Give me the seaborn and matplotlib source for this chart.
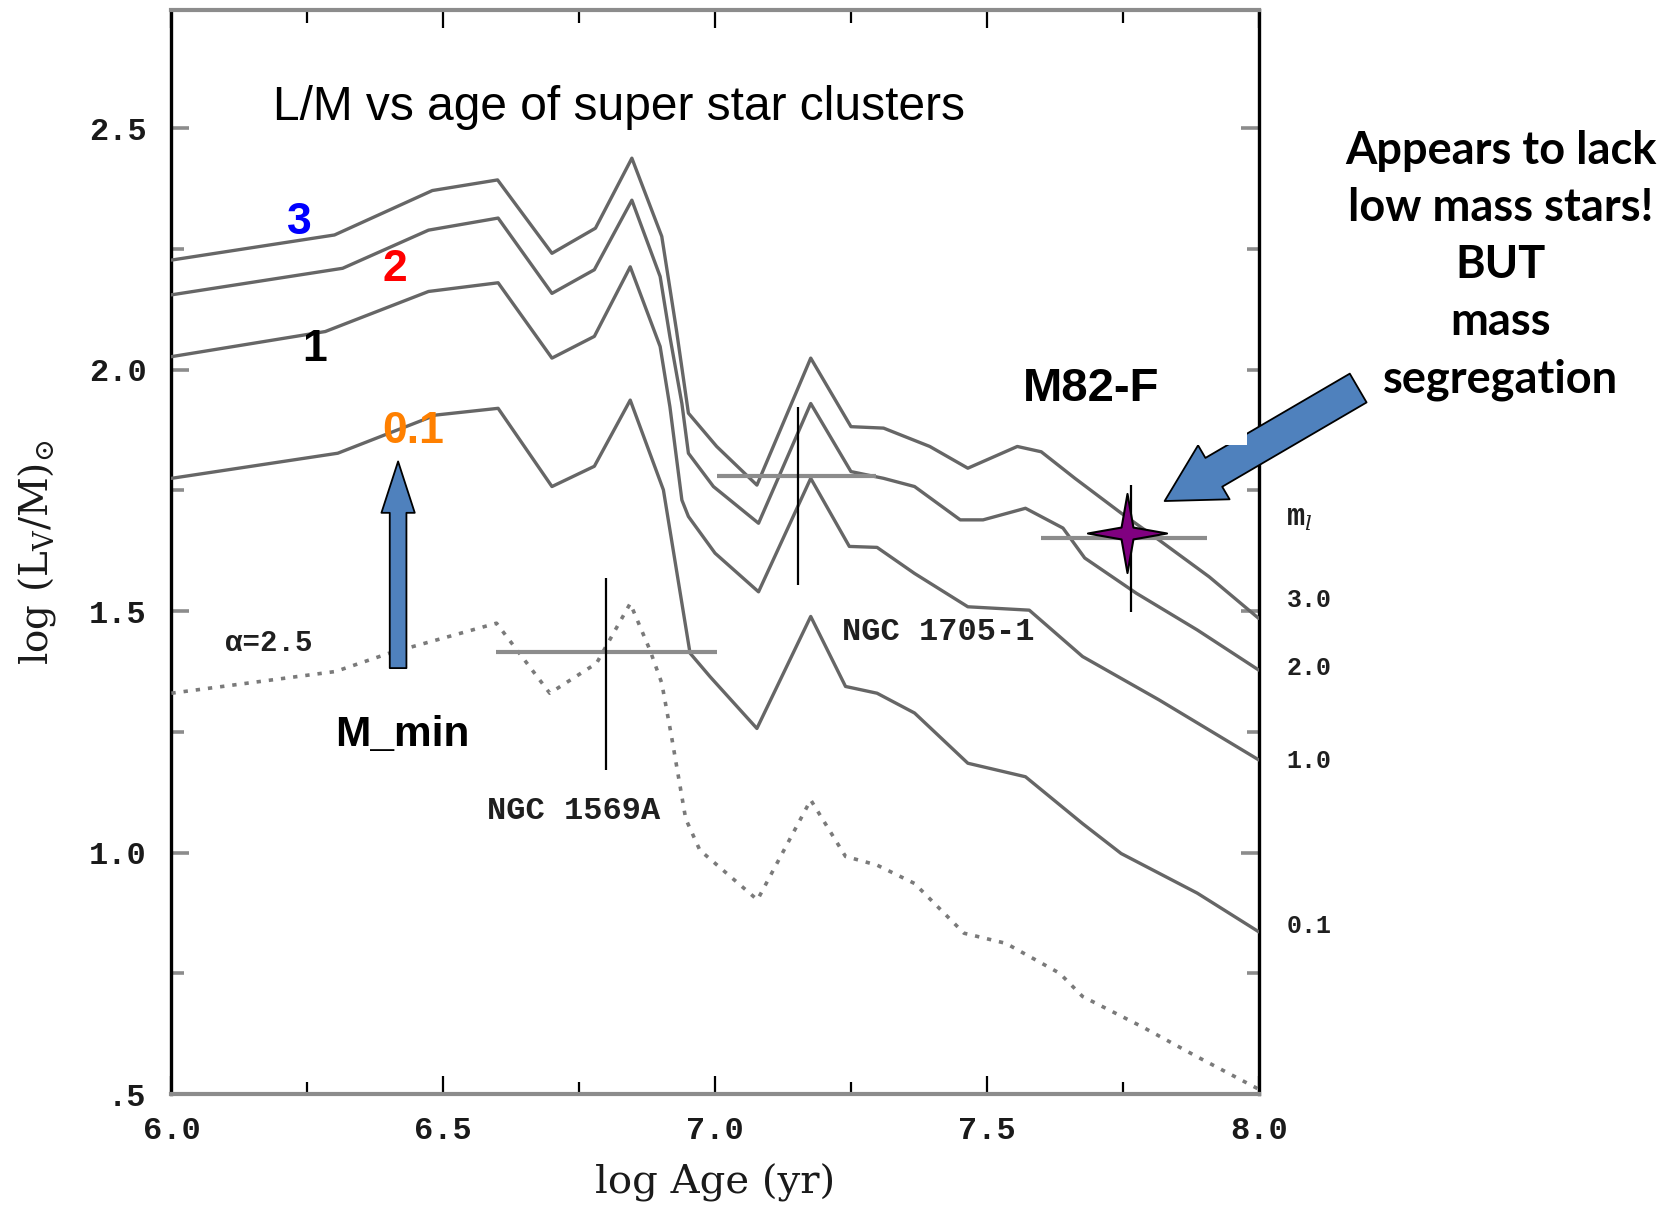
import numpy as np
import pandas as pd
import matplotlib
matplotlib.use("Agg")
import matplotlib.pyplot as plt
import seaborn as sns
from matplotlib.path import Path
from matplotlib.patches import Rectangle

# ---------------- data ----------------
age_m30 = [6.00, 6.30, 6.48, 6.60, 6.70, 6.78, 6.847, 6.902, 6.929, 6.951, 7.003, 7.077,
           7.176, 7.25, 7.31, 7.395, 7.465, 7.556, 7.60, 7.662, 7.747, 7.817, 7.909, 8.00]
lm_m30 = [2.227, 2.279, 2.371, 2.393, 2.241, 2.293, 2.438, 2.276, 2.082, 1.910, 1.841, 1.761,
          2.024, 1.882, 1.879, 1.841, 1.796, 1.841, 1.830, 1.775, 1.703, 1.647, 1.571, 1.485]

age_m20 = [6.00, 6.315, 6.473, 6.601, 6.700, 6.778, 6.847, 6.899, 6.917, 6.939, 6.951, 6.997,
           7.080, 7.176, 7.25, 7.31, 7.367, 7.451, 7.493, 7.571, 7.64, 7.68, 7.775, 7.887, 8.00]
lm_m20 = [2.155, 2.210, 2.289, 2.314, 2.158, 2.207, 2.351, 2.193, 2.068, 1.930, 1.827, 1.758,
          1.682, 1.930, 1.789, 1.775, 1.758, 1.689, 1.689, 1.713, 1.672, 1.610, 1.537, 1.461, 1.378]

age_m10 = [6.00, 6.283, 6.473, 6.601, 6.700, 6.778, 6.844, 6.899, 6.917, 6.939, 6.951, 7.000,
           7.080, 7.176, 7.247, 7.298, 7.367, 7.465, 7.578, 7.676, 7.817, 8.00]
lm_m10 = [2.027, 2.079, 2.162, 2.180, 2.024, 2.069, 2.213, 2.048, 1.923, 1.730, 1.696, 1.620,
          1.540, 1.775, 1.634, 1.632, 1.578, 1.509, 1.502, 1.406, 1.316, 1.192]

age_m01 = [6.00, 6.306, 6.486, 6.601, 6.700, 6.778, 6.844, 6.905, 6.954, 6.991, 7.077, 7.176,
           7.240, 7.298, 7.367, 7.465, 7.571, 7.676, 7.747, 7.817, 7.887, 8.00]
lm_m01 = [1.775, 1.827, 1.906, 1.920, 1.758, 1.800, 1.937, 1.751, 1.413, 1.364, 1.257, 1.489,
          1.344, 1.330, 1.289, 1.185, 1.157, 1.060, 0.998, 0.957, 0.916, 0.836]

age_a25 = [6.00, 6.302, 6.401, 6.598, 6.696, 6.782, 6.844, 6.880, 6.902, 6.920, 6.946, 6.972,
           7.078, 7.176, 7.240, 7.298, 7.367, 7.458, 7.535, 7.634, 7.676, 7.786, 7.887, 8.00]
lm_a25 = [1.330, 1.375, 1.413, 1.475, 1.330, 1.392, 1.516, 1.420, 1.351, 1.240, 1.070, 1.005,
          0.902, 1.109, 0.992, 0.974, 0.936, 0.833, 0.812, 0.750, 0.702, 0.639, 0.577, 0.510]

cluster_names = ["NGC 1569A", "NGC 1705-1", "M82-F"]
cluster_age = [6.800, 7.152, 7.765]
cluster_lm = [1.415, 1.779, 1.651]
cluster_age_err_lo = [0.202, 0.149, 0.166]
cluster_age_err_hi = [0.203, 0.144, 0.140]
cluster_lm_err_lo = [0.244, 0.225, 0.152]
cluster_lm_err_hi = [0.153, 0.144, 0.110]

star_age = [7.757]
star_lm = [1.661]

x_ticks = [6.0, 6.5, 7.0, 7.5, 8.0]
x_tick_labels = ["6.0", "6.5", "7.0", "7.5", "8.0"]
y_ticks = [0.5, 1.0, 1.5, 2.0, 2.5]
y_tick_labels = [".5", "1.0", "1.5", "2.0", "2.5"]

# ---------------- build table ----------------
frames = []
for name, a, l in [("3.0", age_m30, lm_m30), ("2.0", age_m20, lm_m20),
                   ("1.0", age_m10, lm_m10), ("0.1", age_m01, lm_m01),
                   ("alpha", age_a25, lm_a25)]:
    frames.append(pd.DataFrame({"log_age": a, "log_lm": l, "curve": name}))
df = pd.concat(frames, ignore_index=True)

# ---------------- style ----------------
sns.set_style("white")
plt.rcParams["font.family"] = ["Liberation Sans", "DejaVu Sans"]
plt.rcParams["mathtext.fontset"] = "dejavuserif"

fig = plt.figure(figsize=(16.6, 12.13), dpi=100)
ax = fig.add_axes([0.10325, 0.0981, 0.655, 0.8937])

LINE = "#666666"
for name in ["3.0", "2.0", "1.0", "0.1"]:
    sns.lineplot(data=df[df["curve"] == name], x="log_age", y="log_lm",
                 estimator=None, sort=False, color=LINE, lw=2.4, ax=ax, zorder=3)
sns.lineplot(data=df[df["curve"] == "alpha"], x="log_age", y="log_lm",
             estimator=None, sort=False, color="#7a7a7a", lw=2.6,
             linestyle=(0, (1.2, 2.2)), ax=ax, zorder=3)

# cluster error bars: grey horizontal, black vertical
xerr = np.array([cluster_age_err_lo, cluster_age_err_hi])
yerr = np.array([cluster_lm_err_lo, cluster_lm_err_hi])
ax.errorbar(cluster_age, cluster_lm, xerr=xerr, fmt="none", ecolor="#8c8c8c",
            elinewidth=3.0, capsize=0, zorder=4)
ax.errorbar(cluster_age, cluster_lm, yerr=yerr, fmt="none", ecolor="black",
            elinewidth=1.6, capsize=0, zorder=4)

# four-point star marker
star = Path([(0, 1), (0.15, 0.15), (1, 0), (0.15, -0.15), (0, -1),
             (-0.15, -0.15), (-1, 0), (-0.15, 0.15), (0, 1)],
            [Path.MOVETO] + [Path.LINETO] * 7 + [Path.CLOSEPOLY])
ax.plot(star_age, star_lm, linestyle="none", marker=star, markersize=57,
        markerfacecolor="#800080", markeredgecolor="black", markeredgewidth=1.5, zorder=8)

# axes limits, ticks
ax.set_xlim(6.0, 8.0)
ax.set_ylim(0.5, 2.745)
ax.set_xticks(x_ticks)
ax.set_xticklabels(x_tick_labels, fontfamily="Liberation Mono", fontsize=23,
                   fontweight="bold", color="#1a1a1a")
ax.set_xticks([6.25, 6.75, 7.25, 7.75], minor=True)
ax.set_yticks(y_ticks)
ax.set_yticklabels(y_tick_labels, fontfamily="Liberation Mono", fontsize=23,
                   fontweight="bold", color="#1a1a1a")
ax.set_yticks([0.75, 1.25, 1.75, 2.25], minor=True)
ax.tick_params(axis="x", which="both", direction="in", top=True, bottom=True,
               color="black", width=1.6, pad=16)
ax.tick_params(axis="x", which="major", length=13)
ax.tick_params(axis="x", which="minor", length=9)
ax.tick_params(axis="y", which="both", direction="in", left=True, right=True,
               color="#8c8c8c", width=2.6, pad=18)
ax.tick_params(axis="y", which="major", length=13)
ax.tick_params(axis="y", which="minor", length=9)
for s in ["left", "right"]:
    ax.spines[s].set_color("black")
    ax.spines[s].set_linewidth(2.4)
for s in ["top", "bottom"]:
    ax.spines[s].set_color("#8c8c8c")
    ax.spines[s].set_linewidth(3.0)

ax.set_xlabel("log Age (yr)", fontsize=29, fontfamily="DejaVu Serif", color="#1a1a1a")
ax.set_ylabel(r"log (L$_{\rm V}$/M)$_{\odot}$", fontsize=28, fontfamily="DejaVu Serif",
              color="#1a1a1a")
ax.xaxis.set_label_coords(0.5, -0.064)
ax.yaxis.set_label_coords(-0.104, 0.5)

# in-plot labels of the original figure
mono = dict(fontfamily="Liberation Mono", color="#1f1f1f", fontweight="bold")
ax.text(6.0995, 1.433, "α=2.5", fontsize=21, va="center", ha="left", **mono)
ax.text(6.580, 1.086, "NGC 1569A", fontsize=23, va="center", ha="left", **mono)
ax.text(7.233, 1.457, "NGC 1705-1", fontsize=23, va="center", ha="left", **mono)
ax.text(8.051, 1.692, "m$_l$", fontsize=22, va="center", ha="left", clip_on=False, **mono)
for txt, yy in [("3.0", 1.523), ("2.0", 1.383), ("1.0", 1.19), ("0.1", 0.847)]:
    ax.text(8.051, yy, txt, fontsize=18, va="center", ha="left", clip_on=False, **mono)

# overlay annotations
ax.text(6.187, 2.544, "L/M vs age of super star clusters", fontsize=34.5,
        va="center", ha="left", color="black")
bold = dict(fontweight="bold", va="center", ha="center", fontsize=32)
ax.text(6.236, 2.305, "3", color="#0000FF", **bold)
ax.text(6.411, 2.207, "2", color="#FF0000", **bold)
ax.text(6.263, 2.042, "1", color="black", **bold)
ax.text(6.444, 1.871, "0.1", color="#FF8000", zorder=6, **bold)
ax.text(6.425, 1.244, "M_min", fontweight="bold", fontsize=30.5, va="center",
        ha="center", color="black")

ARROW = "#4F81BD"
ax.annotate("", xy=(6.417, 1.810), xytext=(6.417, 1.382),
            arrowprops=dict(arrowstyle="simple,head_length=37,head_width=24,tail_width=12",
                            mutation_scale=1, fc=ARROW, ec="black", lw=1.3,
                            shrinkA=0, shrinkB=0), zorder=5)
ax.annotate("", xy=(7.827, 1.728), xytext=(8.183, 1.962), annotation_clip=False,
            arrowprops=dict(arrowstyle="simple,head_length=41,head_width=45,tail_width=24",
                            mutation_scale=1, fc=ARROW, ec="black", lw=1.3,
                            shrinkA=0, shrinkB=0), zorder=5)
ax.add_patch(Rectangle((7.560, 1.844), 0.419, 0.22, facecolor="white",
                       edgecolor="none", zorder=6))
ax.text(7.691, 1.959, "M82-F", fontweight="bold", fontsize=34, va="center",
        ha="center", color="black", zorder=7)

fig.text(0.904, 0.781, "Appears to lack\nlow mass stars!\nBUT\nmass\nsegregation",
         fontfamily="Lato", fontweight="bold", fontsize=32.5, ha="center", va="center",
         linespacing=1.44, color="black")

fig.savefig("out.png", dpi=100)
